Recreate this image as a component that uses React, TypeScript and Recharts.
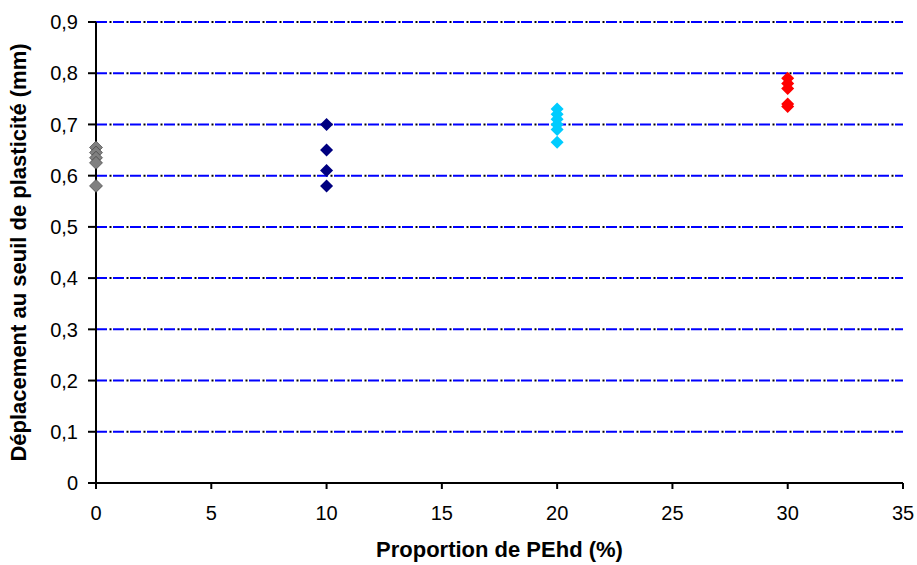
import { ScatterChart, Scatter, XAxis, YAxis, CartesianGrid } from "recharts";

// proportion de PEhd (%) for each group of specimens
const proportions = [0, 10, 20, 30];

// déplacement au seuil de plasticité (mm)
const depl0 = [0.655, 0.645, 0.635, 0.625, 0.58];
const depl10 = [0.7, 0.65, 0.61, 0.58];
const depl20 = [0.73, 0.72, 0.71, 0.7, 0.69, 0.665];
const depl30 = [0.79, 0.78, 0.77, 0.74, 0.735];

const COLORS = ["#808080", "#000080", "#00CCFF", "#FF0000"];

const xTicks = [0, 5, 10, 15, 20, 25, 30, 35];
const yTicks = [0, 0.1, 0.2, 0.3, 0.4, 0.5, 0.6, 0.7, 0.8, 0.9];

const groups = [depl0, depl10, depl20, depl30].map((vals, i) =>
  vals.map((v) => ({ x: proportions[i], y: v }))
);

const fmtY = (v: number) => (v === 0 ? "0" : v.toFixed(1).replace(".", ","));

const FONT = "Arial, 'Liberation Sans', sans-serif";
const TICK_SIZE = 20;
const titleStyle = (size: number) => ({
  fontFamily: FONT,
  fontSize: size,
  fontWeight: "bold",
  fill: "#000",
  textAnchor: "middle" as const,
});

const XTick = (props: any) => {
  const { x, y, payload } = props;
  return (
    <text x={x} y={y} dy="0.71em" textAnchor="middle" fontFamily={FONT} fontSize={TICK_SIZE} fill="#000">
      {payload.value}
    </text>
  );
};

const YTick = (props: any) => {
  const { x, y, payload } = props;
  return (
    <text x={x} y={y} dy="0.36em" textAnchor="end" fontFamily={FONT} fontSize={TICK_SIZE} fill="#000">
      {fmtY(payload.value)}
    </text>
  );
};

const makeDiamond = (fill: string, stroke?: string) => (props: any) => {
  const { cx, cy } = props;
  const r = 6.5;
  return (
    <polygon
      points={`${cx},${cy - r} ${cx + r},${cy} ${cx},${cy + r} ${cx - r},${cy}`}
      fill={fill}
      stroke={stroke ?? "none"}
      strokeWidth={0.6}
    />
  );
};

// blue dash + black dot, like the old Excel dash-dot gridlines
const gridLine = (props: any) => {
  const { x1, y1, x2, y2, key } = props;
  return (
    <g key={key}>
      <line x1={x1} y1={y1} x2={x2} y2={y2} stroke="#0000FF" strokeWidth={2} strokeDasharray="11 6" />
      <line
        x1={x1}
        y1={y1}
        x2={x2}
        y2={y2}
        stroke="#000"
        strokeWidth={2}
        strokeDasharray="2 15"
        strokeDashoffset={3.5}
      />
    </g>
  );
};

export default function App() {
  return (
    <div style={{ position: "absolute", left: 0, top: 0, background: "#fff" }}>
      <ScatterChart width={917} height={565} margin={{ top: 22, right: 14, bottom: 0, left: 0 }}>
        <CartesianGrid vertical={false} horizontal={gridLine} />
        <XAxis
          type="number"
          dataKey="x"
          domain={[0, 35]}
          ticks={xTicks}
          interval={0}
          height={82}
          tickSize={6}
          tickMargin={17}
          tick={<XTick />}
          axisLine={{ stroke: "#000", strokeWidth: 2 }}
          tickLine={{ stroke: "#000", strokeWidth: 2 }}
          label={{ value: "Proportion de PEhd (%)", position: "insideBottom", offset: 8, style: titleStyle(22) }}
        />
        <YAxis
          type="number"
          dataKey="y"
          domain={[0, 0.9]}
          ticks={yTicks}
          interval={0}
          width={96}
          tickSize={8}
          tickMargin={10}
          tick={<YTick />}
          axisLine={{ stroke: "#000", strokeWidth: 2 }}
          tickLine={{ stroke: "#000", strokeWidth: 2 }}
          label={{
            value: "Déplacement au seuil de plasticité  (mm)",
            angle: -90,
            position: "insideLeft",
            offset: 18,
            style: titleStyle(22),
          }}
        />
        {groups.map((g, i) => (
          <Scatter
            key={i}
            data={g}
            isAnimationActive={false}
            fill={COLORS[i]}
            shape={makeDiamond(COLORS[i], i === 0 ? "#333" : undefined)}
          />
        ))}
      </ScatterChart>
    </div>
  );
}
